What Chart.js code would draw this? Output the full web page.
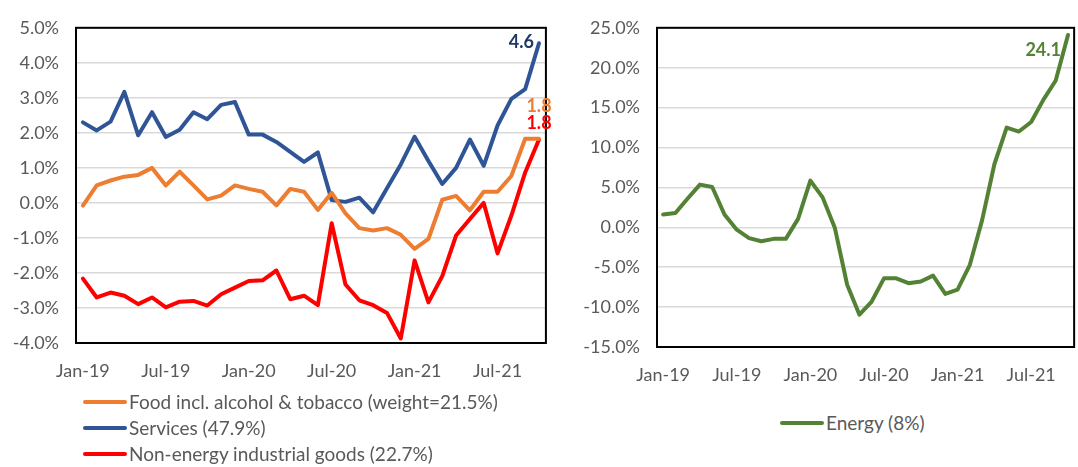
<!DOCTYPE html>
<html>
<head>
<meta charset="utf-8">
<script src="https://cdn.jsdelivr.net/npm/chart.js@4.4.1/dist/chart.umd.min.js"></script>
<style>
  html, body { margin:0; padding:0; background:#fff; overflow:hidden; width:1078px; height:467px; }
  .box { position:absolute; }
  .legend { position:absolute; font-family: Lato, "Open Sans", sans-serif; font-size:19px; color:#595959; white-space:nowrap; }
  .legend .item { position:absolute; display:flex; align-items:center; }
  .legend .swatch { display:inline-block; width:44px; height:4px; border-radius:2px; margin-right:2px; }
</style>
</head>
<body>
<div class="box" id="leftBox" style="left:0;top:0;width:556px;height:400px;"><canvas id="leftChart"></canvas></div>
<div class="box" id="rightBox" style="left:560px;top:0;width:525px;height:400px;"><canvas id="rightChart"></canvas></div>
<div class="legend" id="leftLegend"></div>
<div class="legend" id="rightLegend"></div>
<script>
const months = ['Jan-19','Feb-19','Mar-19','Apr-19','May-19','Jun-19','Jul-19','Aug-19','Sep-19','Oct-19','Nov-19','Dec-19',
  'Jan-20','Feb-20','Mar-20','Apr-20','May-20','Jun-20','Jul-20','Aug-20','Sep-20','Oct-20','Nov-20','Dec-20',
  'Jan-21','Feb-21','Mar-21','Apr-21','May-21','Jun-21','Jul-21','Aug-21','Sep-21','Oct-21'];
const shownTicks = ['Jan-19','Jul-19','Jan-20','Jul-20','Jan-21','Jul-21'];

const foodName = 'Food incl. alcohol & tobacco (weight=21.5%)';
const servicesName = 'Services (47.9%)';
const neigName = 'Non-energy industrial goods (22.7%)';
const energyName = 'Energy (8%)';

const food = [-0.08,0.50,0.64,0.75,0.80,1.00,0.50,0.89,0.50,0.10,0.21,0.50,0.40,0.32,-0.07,0.40,0.32,-0.20,0.29,-0.30,
  -0.72,-0.79,-0.72,-0.91,-1.31,-1.03,0.09,0.20,-0.21,0.32,0.32,0.77,1.83,1.83];
const services = [2.30,2.07,2.32,3.17,1.93,2.59,1.88,2.09,2.59,2.39,2.80,2.88,1.95,1.95,1.74,1.46,1.17,1.44,0.08,0.03,
  0.15,-0.27,0.42,1.10,1.89,1.20,0.54,1.00,1.81,1.06,2.21,2.97,3.25,4.56];
const neig = [-2.16,-2.70,-2.56,-2.65,-2.89,-2.70,-2.98,-2.82,-2.80,-2.93,-2.61,-2.42,-2.23,-2.21,-1.93,-2.75,-2.65,-2.92,-0.58,-2.33,
  -2.78,-2.92,-3.14,-3.87,-1.64,-2.84,-2.09,-0.93,-0.46,0.00,-1.44,-0.36,0.87,1.81];
const energy = [1.6,1.8,3.6,5.35,5.05,1.6,-0.3,-1.35,-1.75,-1.45,-1.45,1.05,5.85,3.75,-0.1,-7.2,-10.95,-9.3,-6.4,-6.4,
  -7.0,-6.8,-6.05,-8.35,-7.8,-4.7,0.9,7.9,12.5,12.0,13.2,16.0,18.4,24.1];

const COLORS = { food:'#ED7D31', services:'#2F5597', neig:'#FF0000', energy:'#548235' };
const FONT = 'Lato, "Open Sans", sans-serif';
const TICK_COLOR = '#595959';

const boxPlugin = {
  id: 'plotBox',
  beforeDatasetsDraw(chart) {
    const a = chart.chartArea, ctx = chart.ctx;
    ctx.save();
    ctx.strokeStyle = '#000';
    ctx.lineWidth = 2;
    ctx.strokeRect(a.left, a.top, a.right - a.left, a.bottom - a.top);
    ctx.restore();
  }
};

const endLabelPlugin = {
  id: 'endLabels',
  afterDatasetsDraw(chart, args, opts) {
    const ctx = chart.ctx;
    (opts.items || []).forEach(it => {
      const meta = chart.getDatasetMeta(it.ds);
      const data = chart.data.datasets[it.ds].data;
      const i = data.length - 1;
      const pt = meta.data[i];
      ctx.save();
      ctx.font = 'bold 18px ' + FONT;
      ctx.fillStyle = it.color;
      ctx.textAlign = it.align;
      ctx.textBaseline = 'middle';
      ctx.fillText(data[i].toFixed(1), pt.x + it.dx, pt.y + it.dy);
      ctx.restore();
    });
  }
};

function lineDs(label, data, color) {
  return { label, data, borderColor: color, backgroundColor: color, borderWidth: 4,
    pointRadius: 0, tension: 0, borderJoinStyle: 'round', borderCapStyle: 'round' };
}

function makeOptions(yMin, yMax, step, yWidth, xHeight, padTop, labelItems) {
  return {
    responsive: true, maintainAspectRatio: false, animation: false,
    layout: { padding: { top: padTop, right: 0, bottom: 0, left: 0 } },
    plugins: { legend: { display: false }, tooltip: { enabled: false }, endLabels: { items: labelItems } },
    scales: {
      x: {
        offset: true,
        grid: { display: false, drawTicks: false },
        border: { display: false },
        afterFit(s) { s.height = xHeight; },
        ticks: { autoSkip: false, maxRotation: 0, padding: 17, color: TICK_COLOR, font: { family: FONT, size: 18 },
          callback(v, i) { const l = this.getLabelForValue(v); return shownTicks.includes(l) ? l : ''; } }
      },
      y: {
        min: yMin, max: yMax,
        grid: { color: '#D9D9D9', lineWidth: 1.5, drawTicks: false },
        border: { display: false },
        afterFit(s) { s.width = yWidth; },
        ticks: { stepSize: step, padding: 17, color: TICK_COLOR, font: { family: FONT, size: 18 },
          callback: v => v.toFixed(1) + '%' }
      }
    }
  };
}

new Chart(document.getElementById('leftChart'), {
  type: 'line',
  data: { labels: months, datasets: [
    lineDs(foodName, food, COLORS.food),
    lineDs(servicesName, services, COLORS.services),
    lineDs(neigName, neig, COLORS.neig)
  ]},
  options: makeOptions(-4, 5, 1, 76, 57, 24, [
    { ds:1, color:'#203864', align:'right', dx:-5, dy:-1 },
    { ds:0, color:COLORS.food, align:'center', dx:0, dy:-33 },
    { ds:2, color:COLORS.neig, align:'center', dx:0, dy:-16 }
  ]),
  plugins: [boxPlugin, endLabelPlugin]
});

new Chart(document.getElementById('rightChart'), {
  type: 'line',
  data: { labels: months, datasets: [ lineDs(energyName, energy, COLORS.energy) ] },
  options: makeOptions(-15, 25, 5, 97, 53, 26, [
    { ds:0, color:COLORS.energy, align:'right', dx:-7, dy:15 }
  ]),
  plugins: [boxPlugin, endLabelPlugin]
});

function buildLegend(el, items, left, top, gap) {
  items.forEach((it, k) => {
    const d = document.createElement('div');
    d.className = 'item';
    d.style.left = left + 'px';
    d.style.top = (top + k * gap) + 'px';
    const sw = document.createElement('span');
    sw.className = 'swatch';
    sw.style.background = it.color;
    const tx = document.createElement('span');
    tx.textContent = it.name;
    d.appendChild(sw); d.appendChild(tx);
    el.appendChild(d);
  });
}
buildLegend(document.getElementById('leftLegend'), [
  { name: foodName, color: COLORS.food },
  { name: servicesName, color: COLORS.services },
  { name: neigName, color: COLORS.neig }
], 83, 390, 26);
buildLegend(document.getElementById('rightLegend'), [
  { name: energyName, color: COLORS.energy }
], 780, 411, 26);
</script>
</body>
</html>
